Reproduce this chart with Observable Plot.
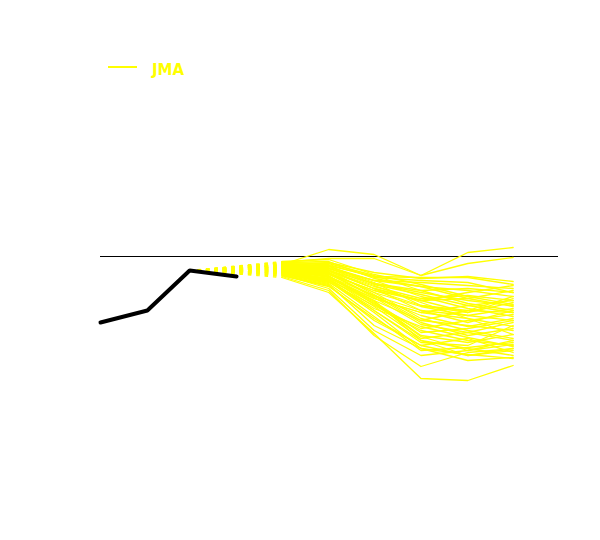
<!DOCTYPE html>
<html>
<head>
<meta charset="utf-8">
<script src="https://cdn.jsdelivr.net/npm/d3@7"></script>
<script src="https://cdn.jsdelivr.net/npm/@observablehq/plot@0.6"></script>
<style>
  html, body { margin: 0; padding: 0; background: #fff; }
  #legend { position: relative; width: 600px; height: 100px; }
  #legend .sw { position: absolute; left: 108px; top: 66px; width: 29px; height: 2px; background: #ffff00; }
  #legend .lb { position: absolute; left: 152px; top: 63px; font: bold 15px/15px "DejaVu Sans", sans-serif; color: #ffff00; }
</style>
</head>
<body>
<div id="legend"><span class="sw"></span><span class="lb">JMA</span></div>
<div id="chart"></div>
<script>
const obsMonths = ["2023-01-01", "2023-02-01", "2023-03-01", "2023-04-01"];
const obsValues = [-1.32, -1.08, -0.28, -0.40];

const fcStart = "2023-03-01";
const fcStartValue = -0.28;
const fcMonths = ["2023-05-01", "2023-06-01", "2023-07-01", "2023-08-01", "2023-09-01", "2023-10-01"];

const members = [
  [-0.16, 0.14, 0.04, -0.38, 0.08, 0.18],
  [-0.12, -0.04, -0.04, -0.38, -0.14, -0.02],
  [-0.18, -0.12, -0.32, -0.44, -0.40, -0.50],
  [-0.20, -0.18, -0.40, -0.42, -0.42, -0.56],
  [-0.24, -0.24, -0.48, -0.60, -0.68, -0.80],
  [-0.28, -0.28, -0.54, -0.72, -0.88, -0.98],
  [-0.22, -0.30, -0.64, -0.88, -0.84, -0.68],
  [-0.26, -0.36, -0.68, -0.98, -1.08, -1.12],
  [-0.30, -0.40, -0.78, -1.08, -1.18, -1.28],
  [-0.32, -0.44, -0.84, -1.12, -0.98, -0.88],
  [-0.28, -0.48, -0.88, -1.28, -1.38, -1.48],
  [-0.34, -0.52, -0.98, -1.48, -1.68, -1.78],
  [-0.38, -0.58, -1.28, -1.78, -1.98, -1.88],
  [-0.36, -0.64, -1.48, -1.98, -1.88, -1.68],
  [-0.40, -0.68, -1.58, -2.20, -1.92, -1.84],
  [-0.42, -0.72, -1.54, -2.44, -2.48, -2.18],
  [-0.24, -0.40, -0.88, -1.68, -1.84, -1.98],
  [-0.20, -0.32, -0.72, -1.24, -1.48, -1.64],
  [-0.16, -0.24, -0.58, -0.92, -1.24, -1.40],
  [-0.14, -0.20, -0.48, -0.80, -1.04, -1.20],
  [-0.18, -0.28, -0.64, -1.08, -1.32, -1.08],
  [-0.22, -0.36, -0.78, -1.32, -1.58, -1.44],
  [-0.26, -0.42, -0.92, -1.58, -1.72, -1.56],
  [-0.30, -0.46, -1.08, -1.72, -1.78, -1.38],
  [-0.32, -0.50, -1.12, -1.84, -1.96, -2.04],
  [-0.28, -0.34, -0.68, -0.88, -0.72, -0.58],
  [-0.24, -0.28, -0.60, -0.84, -0.78, -0.88],
  [-0.20, -0.24, -0.54, -0.68, -0.64, -0.72],
  [-0.18, -0.22, -0.48, -0.52, -0.58, -0.64],
  [-0.14, -0.16, -0.42, -0.48, -0.52, -0.72],
  [-0.12, -0.14, -0.38, -0.68, -0.94, -1.08],
  [-0.16, -0.20, -0.52, -0.98, -1.12, -0.92],
  [-0.22, -0.32, -0.80, -1.18, -1.40, -1.24],
  [-0.26, -0.38, -0.96, -1.44, -1.28, -1.16],
  [-0.30, -0.44, -1.00, -1.64, -1.52, -1.32],
  [-0.34, -0.54, -1.20, -1.88, -1.82, -1.72],
  [-0.38, -0.60, -1.24, -1.78, -1.64, -1.92],
  [-0.36, -0.56, -1.38, -1.84, -2.08, -2.02],
  [-0.32, -0.48, -1.04, -1.40, -1.62, -1.80],
  [-0.28, -0.40, -0.84, -1.12, -1.24, -1.56],
  [-0.24, -0.32, -0.72, -1.00, -1.18, -1.04],
  [-0.20, -0.26, -0.64, -0.88, -1.12, -0.84],
  [-0.16, -0.18, -0.56, -0.76, -0.98, -1.12],
  [-0.12, -0.10, -0.44, -0.60, -0.84, -1.00],
  [-0.10, -0.06, -0.36, -0.56, -0.80, -0.96],
  [-0.18, -0.28, -0.76, -1.28, -1.08, -0.80],
  [-0.22, -0.34, -0.82, -1.36, -1.52, -1.68],
  [-0.26, -0.40, -0.90, -1.52, -1.44, -1.28],
  [-0.30, -0.46, -0.94, -1.60, -1.88, -1.76],
  [-0.34, -0.50, -1.08, -1.68, -1.98, -1.84]
];

const parse = d3.utcParse("%Y-%m-%d");
const obs = obsMonths.map((m, i) => ({date: parse(m), value: obsValues[i]}));
const fc = members.flatMap((vals, k) => vals.map((v, i) => ({member: k, date: parse(fcMonths[i]), value: v})));
const lead = members.flatMap((vals, k) => [
  {member: k, date: parse(fcStart), value: fcStartValue},
  {member: k, date: parse(fcMonths[0]), value: vals[0]}
]);

const chart = Plot.plot({
  width: 600,
  height: 440,
  marginLeft: 100,
  marginRight: 42,
  marginTop: 0,
  marginBottom: 0,
  x: {type: "utc", domain: [parse("2023-01-01"), parse("2023-10-31")], axis: null},
  y: {domain: [-5.68, 3.12], axis: null},
  marks: [
    Plot.ruleY([0], {stroke: "black", strokeWidth: 1.2}),
    Plot.line(lead, {x: "date", y: "value", z: "member", stroke: "#ffff00", strokeWidth: 1.2, strokeDasharray: "2.5,5.9", curve: "linear"}),
    Plot.line(fc, {x: "date", y: "value", z: "member", stroke: "#ffff00", strokeWidth: 1.3, curve: "linear"}),
    Plot.line(obs, {x: "date", y: "value", stroke: "black", strokeWidth: 4, strokeLinejoin: "miter", curve: "linear"})
  ]
});
document.getElementById("chart").appendChild(chart);
</script>
</body>
</html>
